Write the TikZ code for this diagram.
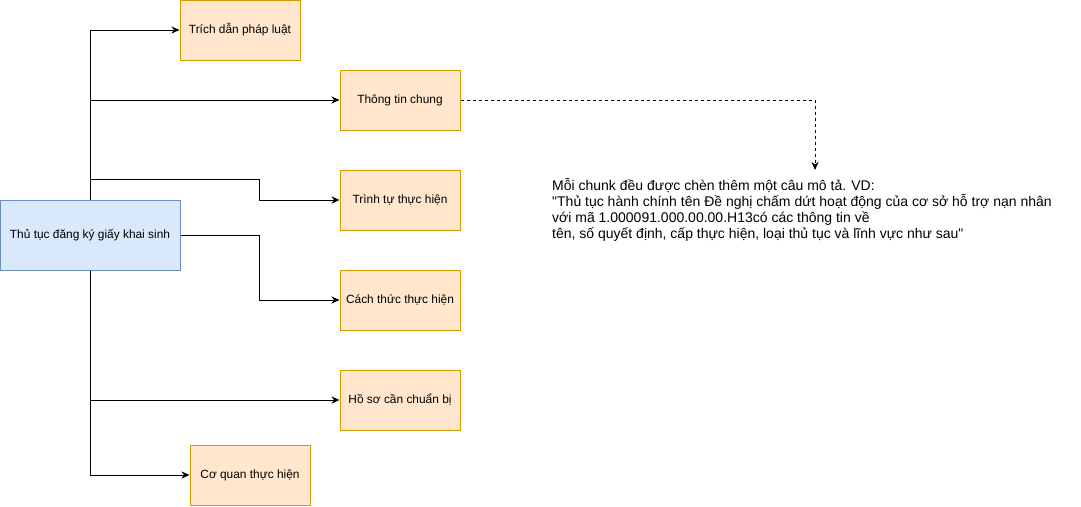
\documentclass[tikz,border=0pt]{standalone}
\usepackage{fontspec}
\setmainfont{Liberation Sans}
\newfontfamily\notefont{Liberation Sans}[Ligatures=ResetAll]
\usetikzlibrary{arrows.meta}
\definecolor{mainfill}{HTML}{DAE8FC}
\definecolor{mainline}{HTML}{6C8EBF}
\definecolor{subfill}{HTML}{FFE6CC}
\definecolor{subline}{HTML}{D79B00}
\tikzset{
  mainbox/.style={draw=mainline, fill=mainfill, line width=1pt, minimum width=180pt, minimum height=70pt, inner sep=0pt, font=\fontsize{11.9}{14}\selectfont},
  subbox/.style={draw=subline, fill=subfill, line width=1pt, minimum width=120pt, minimum height=60pt, inner sep=0pt, font=\fontsize{11.9}{14}\selectfont},
  conn/.style={line width=1pt, -{Stealth[length=8pt,width=7pt,inset=2.5pt]}},
  dashconn/.style={conn, dash pattern=on 3pt off 3pt},
  note/.style={align=left, anchor=north west, inner sep=0pt, font=\notefont\fontsize{14}{16}\selectfont}
}
\begin{document}
\begin{tikzpicture}[x=1pt,y=-1pt]
\useasboundingbox (0,0) rectangle (1081,506);
\node[mainbox] (main) at (90,235) {Thủ tục đăng ký giấy khai sinh};
\node[subbox] (t1) at (240,30) {Trích dẫn pháp luật};
\node[subbox] (t2) at (400,100) {Thông tin chung};
\node[subbox] (t3) at (400,200) {Trình tự thực hiện};
\node[subbox] (t4) at (400,300) {Cách thức thực hiện};
\node[subbox] (t5) at (400,400) {Hồ sơ cần chuẩn bị};
\node[subbox] (t6) at (250,475) {Cơ quan thực hiện};
\node[note] (desc) at (552,178) {Mỗi chunk đều được chèn thêm một câu mô tả. VD:\\
"Thủ tục hành chính tên Đề nghị chấm dứt hoạt động của cơ sở hỗ trợ nạn nhân\\
với mã 1.000091.000.00.00.H13có các thông tin về\\
tên, số quyết định, cấp thực hiện, loại thủ tục và lĩnh vực như sau"};
\coordinate (dend) at (815,170);
\draw[conn] (main.north) |- (t1.west);
\draw[conn] (main.north) |- (t2.west);
\draw[conn] (main.north) -- ++(0,-20) -| ([xshift=-80pt]t3.west) -- (t3.west);
\draw[conn] (main.east) -| ([xshift=-80pt]t4.west) -- (t4.west);
\draw[conn] (main.south) |- (t5.west);
\draw[conn] (main.south) |- (t6.west);
\draw[dashconn] (t2.east) -| (dend);
\end{tikzpicture}
\end{document}
